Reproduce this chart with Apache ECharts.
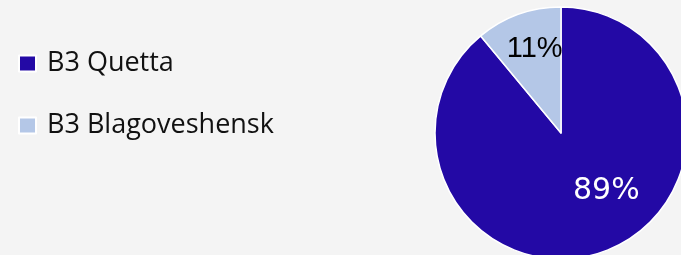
<!DOCTYPE html>
<html>
<head>
<meta charset="utf-8">
<script src="https://cdn.jsdelivr.net/npm/echarts@6/dist/echarts.min.js"></script>
<style>
  html, body { margin: 0; padding: 0; background: #f4f4f4; }
  #pie_chart { width: 681px; height: 255px; }
</style>
</head>
<body>
<div id="pie_chart"></div>
<script>
  let categories = ['B3 Quetta', 'B3 Blagoveshensk']
  let shares = [89, 11]
  let colors = ['#2309a5', '#b4c7e7']
  let labelColors = ['#ffffff', '#000000']

  let myChart = echarts.init(document.getElementById('pie_chart'))
  let option = {
    backgroundColor: '#f4f4f4',
    animation: false,
    legend: {
      orient: 'vertical',
      left: 18,
      top: 50,
      padding: 0,
      itemWidth: 17,
      itemHeight: 16,
      itemGap: 35,
      icon: 'rect',
      textStyle: {
        fontFamily: 'Open Sans',
        fontSize: 27,
        lineHeight: 26,
        padding: [0, 0, 0, 6],
        color: '#111'
      },
      data: categories
    },
    series: [{
      type: 'pie',
      center: [561, 133],
      radius: [0, 126],
      startAngle: 90,
      clockwise: true,
      itemStyle: {
        borderColor: '#ffffff',
        borderWidth: 1.5
      },
      label: {
        show: true,
        position: 'inside',
        formatter: '{c}%'
      },
      labelLine: { show: false },
      data: [{
        name: categories[0],
        value: shares[0],
        itemStyle: { color: colors[0] },
        label: {
          color: labelColors[0],
          fontFamily: 'DejaVu Sans',
          fontSize: 30,
          offset: [23, -4]
        }
      }, {
        name: categories[1],
        value: shares[1],
        itemStyle: { color: colors[1] },
        label: {
          color: labelColors[1],
          fontFamily: 'Liberation Sans',
          fontSize: 29,
          offset: [-4, -22]
        }
      }]
    }]
  }
  myChart.setOption(option)
</script>
</body>
</html>
